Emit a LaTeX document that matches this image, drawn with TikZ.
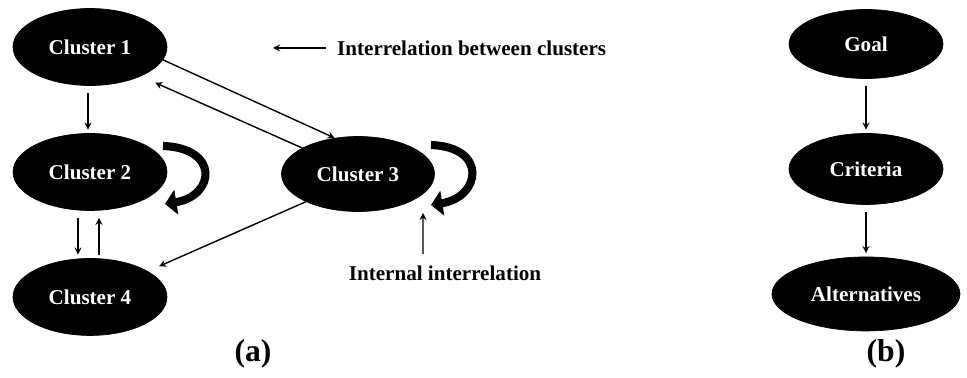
\documentclass[tikz,border=0pt]{standalone}
\usepackage{fontspec}
\setmainfont{Liberation Serif}
\usepackage{tikz}
\usetikzlibrary{shapes.geometric, arrows, arrows.meta}
\tikzstyle{cluster} = [ellipse, minimum width=3.08cm, minimum height=1.54cm, inner sep=0pt, text centered, fill=black, draw=black, text=white, font=\bfseries\fontsize{12}{14}\selectfont]
\tikzstyle{label} = [font=\bfseries\fontsize{12}{14}\selectfont]
\tikzstyle{caption} = [font=\bfseries\fontsize{18}{20}\selectfont]
\tikzstyle{arrow} = [thick,->,>=stealth]
\tikzstyle{selfarrow} = [line width=4.6pt, -{Triangle[width=14pt,length=6.5pt]}]

\begin{document}
\begin{tikzpicture}[x=0.02cm, y=-0.02cm, node distance=2.5cm]
   \useasboundingbox (0,0) rectangle (967,378);
   % (a) clusters
   \node (c1) [cluster] at (90,47) {Cluster 1};
   \node (c2) [cluster, below of=c1] {Cluster 2};
   \node (c4) [cluster, below of=c2] {Cluster 4};
   \node (c3) [cluster, minimum width=3.06cm, minimum height=1.5cm] at (358,174) {Cluster 3};
   \draw [arrow, shorten <=4pt, shorten >=2pt] ([xshift=-0.04cm]c1.south) -- ([xshift=-0.04cm]c2.north);
   \draw [arrow, shorten <=4pt, shorten >=2pt] ([xshift=-0.24cm]c2.south) -- ([xshift=-0.24cm]c4.north);
   \draw [arrow, shorten <=2pt, shorten >=4pt] ([xshift=0.18cm]c4.north) -- ([xshift=0.18cm]c2.south);
   \draw [arrow] (c1.-10) -- (c3.123);
   \draw [arrow, shorten >=9pt] (c3.155) -- (c1.-30);
   \draw [arrow, shorten >=7pt] (c3.208) -- (c4.24);
   \draw [selfarrow] ([shift={(73,-26)}]c2.center) .. controls +(57,2) and +(50,-8) .. ([shift={(75,32)}]c2.center);
   \draw [selfarrow] ([shift={(73,-29)}]c3.center) .. controls +(57,2) and +(50,-8) .. ([shift={(73,31)}]c3.center);
   % labels
   \node (lblA) [label, anchor=west] at (331,48) {Interrelation between clusters};
   \coordinate (lblAend) at (273,48);
   \draw [arrow, shorten <=3pt] (lblA.west) -- (lblAend);
   \node (lblB) [label] at (445,273) {Internal interrelation};
   \coordinate (lblBend) at (423,213);
   \draw [arrow, shorten <=3pt] ([xshift=-0.44cm]lblB.north) -- (lblBend);
   % (b) hierarchy
   \node (goal) [cluster, minimum height=1.38cm] at (866,44) {Goal};
   \node (crit) [cluster, minimum height=1.42cm, below of=goal] {Criteria};
   \node (alt) [cluster, minimum width=3.76cm, minimum height=1.48cm, below of=crit] {Alternatives};
   \draw [arrow, shorten <=4pt, shorten >=2pt] (goal.south) -- (crit.north);
   \draw [arrow, shorten <=4pt, shorten >=2pt] (crit.south) -- (alt.north);
   % captions
   \node (capA) [caption] at (253,354) {(a)};
   \node (capB) [caption] at (886,354) {(b)};
\end{tikzpicture}
\end{document}
